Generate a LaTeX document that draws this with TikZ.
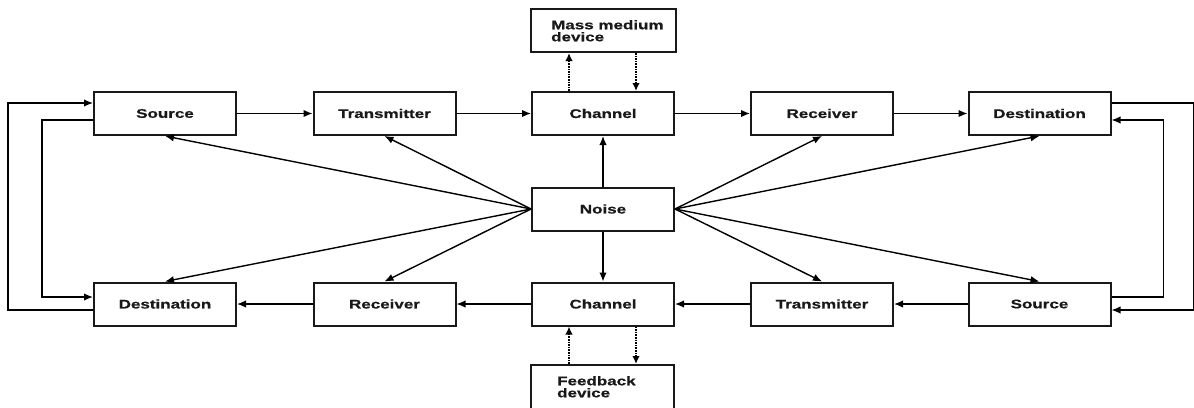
\documentclass[tikz,border=0pt]{standalone}
\usepackage{fontspec}
\usetikzlibrary{arrows.meta,calc}
\newfontfamily\lblfont[FakeStretch=1.36,FakeBold=0.5]{Liberation Sans}
\begin{document}
\begin{tikzpicture}[x=1pt,y=-1pt,
  box/.style={draw=black!90,line width=2pt,fill=white,minimum width=142pt,minimum height=43pt,
    inner sep=0pt,font=\lblfont\bfseries\fontsize{12.5}{12}\selectfont,text=black!90},
  lbl/.style={inner sep=0pt,anchor=north west,align=left,
    font=\lblfont\bfseries\fontsize{12.5}{12}\selectfont,text=black!90},
  arr/.style={line width=1.4pt,-{Latex[length=9pt,width=7.5pt]}},
  dot/.style={line width=1.6pt,densely dotted,-{Latex[length=8pt,width=7.5pt]}}]
\useasboundingbox (0,0) rectangle (1194,407);
\clip (0,0) rectangle (1194,407);

% top chain
\node[box] (srcL) at (165,113.5) {Source};
\node[box] (trL)  at (384.5,113.5) {Transmitter};
\node[box] (chT)  at (603,113.5) {Channel};
\node[box] (rcR)  at (822,113.5) {Receiver};
\node[box] (dstR) at (1039.5,113.5) {Destination};

% bottom chain
\node[box] (dstL) at (165,304) {Destination};
\node[box] (rcL)  at (384.5,304) {Receiver};
\node[box] (chB)  at (603,304) {Channel};
\node[box] (trR)  at (822,304) {Transmitter};
\node[box] (srcR) at (1039.5,304) {Source};

% noise in the middle
\node[box] (noise) at (603,209) {Noise};

% devices attached to the channels
\node[box,minimum width=145pt] (mass) at (603.5,30.5) {};
\node[lbl] (masstxt) at (551,20) {Mass medium\\device};
\node[box,minimum width=143pt,minimum height=50pt] (feed) at (602.5,390) {};
\node[lbl] (feedtxt) at (557,376) {Feedback\\device};

% forward flow along the top
\draw[arr] (srcL) -- (trL);
\draw[arr] (trL) -- (chT);
\draw[arr] (chT) -- (rcR);
\draw[arr] (rcR) -- (dstR);

% backward flow along the bottom
\draw[arr] (srcR) -- (trR);
\draw[arr] (trR) -- (chB);
\draw[arr] (chB) -- (rcL);
\draw[arr] (rcL) -- (dstL);

% noise to every element
\draw[arr] (noise.north) -- (chT.south);
\draw[arr] (noise.south) -- (chB.north);
\draw[arr] (noise.west) -- (srcL.south);
\draw[arr] (noise.west) -- (trL.south);
\draw[arr] (noise.west) -- (dstL.north);
\draw[arr] (noise.west) -- (rcL.north);
\draw[arr] (noise.east) -- (rcR.south);
\draw[arr] (noise.east) -- (dstR.south);
\draw[arr] (noise.east) -- (trR.north);
\draw[arr] (noise.east) -- (srcR.north);

% device links
\draw[dot] ($(chT.north)+(-34,0)$) -- ($(mass.south)+(-34.5,0)$);
\draw[dot] ($(mass.south)+(32.5,0)$) -- ($(chT.north)+(33,0)$);
\draw[dot] ($(feed.north)+(-33.5,0)$) -- ($(chB.south)+(-34,0)$);
\draw[dot] ($(chB.south)+(33,0)$) -- ($(feed.north)+(33.5,0)$);

% left feedback loops
\draw[arr] ($(dstL.west)+(0,6)$) -- ++(-85,0) |- ($(srcL.west)+(0,-10.5)$);
\draw[arr] ($(srcL.west)+(0,6.5)$) -- ++(-51,0) |- ($(dstL.west)+(0,-7)$);

% right feedback loops
\draw[arr] ($(dstR.east)+(0,-10.5)$) -- ++(82.5,0) |- ($(srcR.east)+(0,6)$);
\draw[arr] ($(srcR.east)+(0,-7)$) -- ++(52,0) |- ($(dstR.east)+(0,6.5)$);
\end{tikzpicture}
\end{document}
